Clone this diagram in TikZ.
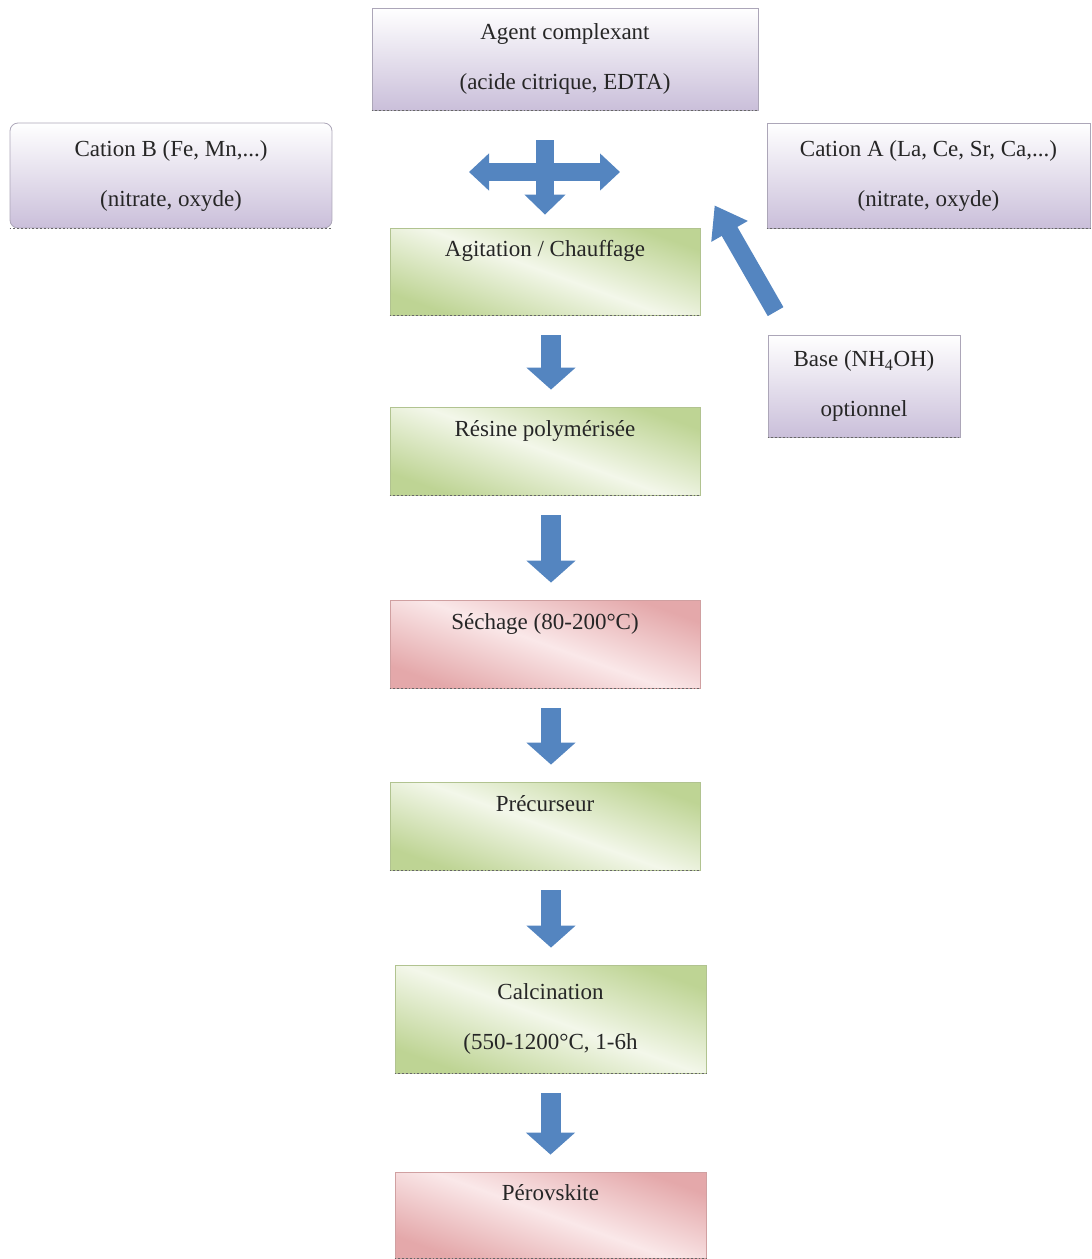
\documentclass[tikz,border=0pt]{standalone}
\usepackage{fontspec}
\setmainfont{Liberation Serif}
\usetikzlibrary{arrows.meta,positioning}

\definecolor{lavender}{RGB}{202,191,218}
\definecolor{boxgreen}{RGB}{190,212,148}
\definecolor{palegreen}{RGB}{243,247,234}
\definecolor{boxred}{RGB}{228,168,170}
\definecolor{palered}{RGB}{250,232,233}
\definecolor{arrowblue}{RGB}{84,133,192}
\definecolor{edgegray}{RGB}{172,166,184}

\tikzset{
  basebox/.style={rectangle, draw=edgegray, line width=0.8pt, align=center,
    text=black!85, font=\fontsize{23}{50}\selectfont},
  inputbox/.style={basebox, top color=white, bottom color=lavender},
  greenbox/.style={basebox, draw=boxgreen!80!gray, top color=boxgreen,
    bottom color=boxgreen, middle color=palegreen, shading angle=-20},
  redbox/.style={basebox, draw=boxred!80!gray, top color=boxred,
    bottom color=boxred, middle color=palered, shading angle=-20},
  oneline/.style={inner ysep=0pt, text height=14pt, text depth=44pt},
  blockarrow/.style={draw=arrowblue, line width=20pt,
    -{Triangle[width=48pt,length=22pt]}}
}

\begin{document}
\begin{tikzpicture}[x=1pt, y=-1pt]
    \useasboundingbox (0,0) rectangle (1092,1259);

    % Inputs
    \node[inputbox, minimum width=386pt, minimum height=102pt] (agent) at (565,59)
        {Agent complexant\\(acide citrique, EDTA)};
    \node[inputbox, rounded corners=8pt, minimum width=322pt, minimum height=105pt] (cationB) at (171,175.5)
        {Cation B (Fe, Mn,...)\\(nitrate, oxyde)};
    \node[inputbox, minimum width=323pt, minimum height=105pt] (cationA) at (928.5,175.5)
        {Cation A (La, Ce, Sr, Ca,...)\\(nitrate, oxyde)};
    \node[inputbox, minimum width=192pt, minimum height=102pt] (base) at (864,386)
        {Base (NH\textsubscript{4}OH)\\optionnel};

    % Steps
    \node[greenbox, oneline, minimum width=310pt, minimum height=87pt] (agit) at (545,271.5)
        {Agitation / Chauffage};
    \node[greenbox, oneline, minimum width=310pt, minimum height=88pt] (resine) at (545,451)
        {Résine polymérisée};
    \node[redbox, oneline, minimum width=310pt, minimum height=88pt] (sechage) at (545,644)
        {Séchage (80-200°C)};
    \node[greenbox, oneline, minimum width=310pt, minimum height=88pt] (precurseur) at (545,826)
        {Précurseur};
    \node[greenbox, minimum width=311pt, minimum height=108pt] (calcination) at (550.5,1019)
        {Calcination\\(550-1200°C, 1-6h};
    \node[redbox, oneline, minimum width=311pt, minimum height=86pt] (perovskite) at (550.5,1215)
        {Pérovskite};

    % Dotted lower edges
    \foreach \n in {agent,cationB,cationA,base,agit,resine,sechage,precurseur,calcination,perovskite} {
        \draw[dotted, line width=1.8pt, black!60] (\n.south west) -- (\n.south east);
    }

    % Mixing arrows
    \coordinate (mixL) at (469,172);
    \coordinate (mixR) at (620,172);
    \coordinate (mixT) at (545,140);
    \draw[draw=arrowblue, line width=18pt,
        {Triangle[width=36pt,length=20pt]}-{Triangle[width=36pt,length=20pt]}] (mixL) -- (mixR);
    \draw[draw=arrowblue, line width=18pt, -{Triangle[width=40pt,length=20pt]}]
        (mixT) -- ([yshift=13pt]agit.north);

    % Base to mixture
    \draw[blockarrow, line width=18pt, -{Triangle[width=40pt,length=30pt]}]
        ([shift={(8pt,23pt)}]base.north west) -- ([shift={(-52pt,23pt)}]cationA.south west);

    % Process arrows
    \foreach \a/\b/\dx in {agit/resine/6, resine/sechage/6, sechage/precurseur/6, precurseur/calcination/6, calcination/perovskite/0} {
        \draw[blockarrow] ([shift={(\dx pt,-20pt)}]\a.south) -- ([shift={(\dx pt,17pt)}]\b.north -| \a.south);
    }
\end{tikzpicture}
\end{document}
